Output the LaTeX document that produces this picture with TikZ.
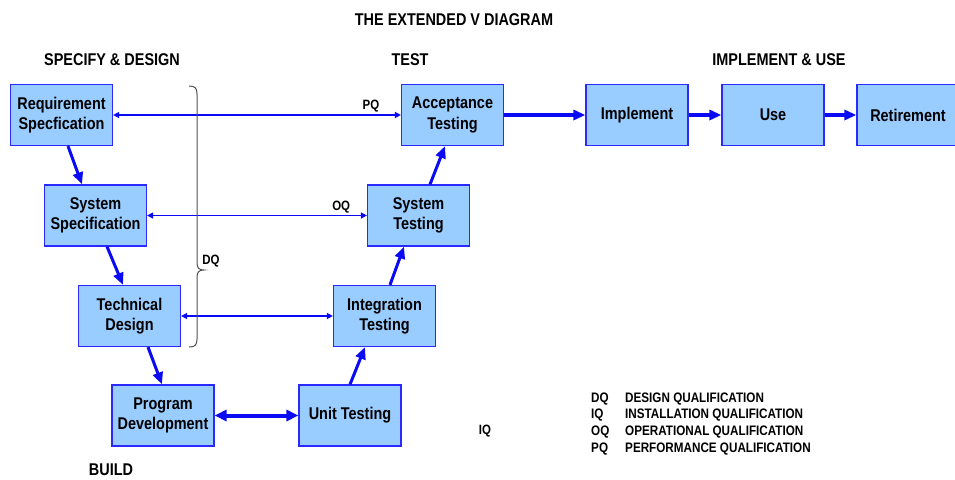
\documentclass[tikz,border=0pt]{standalone}
\usepackage{fontspec}
\setmainfont{Liberation Sans}[FakeStretch=0.85]
\usetikzlibrary{arrows.meta,calc}

\definecolor{boxfill}{HTML}{99CCFF}
\definecolor{boxedge}{HTML}{2A2AFF}
\definecolor{flowblue}{HTML}{0A0AF5}
\definecolor{bracegray}{HTML}{505050}

\tikzset{
  stage/.style={draw=boxedge, fill=boxfill, line width=1.2pt,
    minimum width=102pt, minimum height=61pt, inner sep=0pt, align=center,
    font=\fontsize{17}{20.5}\selectfont\bfseries},
  flow/.style={draw=flowblue, line width=3pt, -{Triangle[length=12pt,width=10pt]}},
  bigflow/.style={draw=flowblue, line width=4pt,
    {Triangle[length=12pt,width=11pt]}-{Triangle[length=12pt,width=11pt]}},
  qlink/.style={draw=flowblue, line width=1.4pt,
    {Triangle[length=6pt,width=6pt]}-{Triangle[length=6pt,width=6pt]}},
  heading/.style={font=\fontsize{17}{19}\selectfont\bfseries, inner sep=0pt},
  qlabel/.style={font=\fontsize{13.5}{15}\selectfont\bfseries, inner sep=2pt},
  legend/.style={font=\fontsize{13.75}{15}\selectfont\bfseries, inner sep=0pt, anchor=base west},
}

\begin{document}
\begin{tikzpicture}[x=1pt, y=-1pt]
  \useasboundingbox (0,0) rectangle (955,479);

  % headings
  \node[heading] (title) at (454,20) {THE EXTENDED V DIAGRAM};
  \node[heading] (hspec) at (112,60) {SPECIFY \& DESIGN};
  \node[heading] (htest) at (410,60) {TEST};
  \node[heading] (himpl) at (779,60) {IMPLEMENT \& USE};
  \node[heading] (hbuild) at (111,470) {BUILD};

  % left leg of the V
  \node[stage] (req)  at (61.5,115)  {Requirement\\Specfication};
  \node[stage] (sys)  at (95.5,215.5) {System\\Specification};
  \node[stage] (tech) at (129.5,316)  {Technical\\Design};
  \node[stage] (prog) at (163,415.5)  {Program\\Development};

  % right leg of the V
  \node[stage] (unit)    at (350,415.5)   {Unit Testing};
  \node[stage] (integ)   at (384.5,316)   {Integration\\Testing};
  \node[stage] (systest) at (418.5,215.5) {System\\Testing};
  \node[stage] (acc)     at (452.5,115)   {Acceptance\\Testing};

  % extension
  \node[stage] (impl) at (637,115) {Implement};
  \node[stage] (use)  at (773,115) {Use};
  \node[stage] (ret)  at (908,115) {Retirement};

  % descending flow
  \draw[flow] ($(req.south)+(6.5,0)$)   -- ($(sys.north)+(-13.5,0)$);
  \draw[flow] ($(sys.south)+(11.5,0)$)  -- ($(tech.north)+(-6.5,0)$);
  \draw[flow] ($(tech.south)+(18.5,0)$) -- ($(prog.north)+(-1,0)$);

  % bottom of the V
  \draw[bigflow] (prog.east) -- (unit.west);

  % ascending flow
  \draw[flow] (unit.north) -- ($(integ.south)+(-19.5,0)$);
  \draw[flow] ($(integ.north)+(5.5,0)$)   -- ($(systest.south)+(-14.5,0)$);
  \draw[flow] ($(systest.north)+(11.5,0)$) -- ($(acc.south)+(-7.5,0)$);

  % implement and use
  \draw[flow, line width=4pt] (acc.east) -- (impl.west);
  \draw[flow, line width=4pt] (impl.east) -- (use.west);
  \draw[flow, line width=4pt] (use.east) -- (ret.west);

  % qualification links
  \draw[qlink] (req.east) -- node[qlabel, pos=0.896, above] {PQ} (acc.west);
  \draw[qlink] (sys.east) -- node[qlabel, pos=0.883, above] {OQ} (systest.west);
  \draw[qlink] (tech.east) -- (integ.west);

  % design qualification brace
  \draw[bracegray, line width=1pt]
    (189,86) .. controls (195,86) and (197,88) .. (197,94) -- (197,263)
    .. controls (197,268) and (199,270) .. (204,270)
    .. controls (199,270) and (197,272) .. (197,277) -- (197,339)
    .. controls (197,345) and (195,347) .. (189,347);
  \node[qlabel, inner sep=0pt] (dq) at (211,261) {DQ};

  \node[qlabel, inner sep=0pt] (iq) at (485,431) {IQ};

  % legend
  \node[legend] (l1a) at (591,402)   {DQ};
  \node[legend] (l1b) at (625,402)   {DESIGN QUALIFICATION};
  \node[legend] (l2a) at (591,418.5) {IQ};
  \node[legend] (l2b) at (625,418.5) {INSTALLATION QUALIFICATION};
  \node[legend] (l3a) at (591,435)   {OQ};
  \node[legend] (l3b) at (625,435)   {OPERATIONAL QUALIFICATION};
  \node[legend] (l4a) at (591,452)   {PQ};
  \node[legend] (l4b) at (625,452)   {PERFORMANCE QUALIFICATION};
\end{tikzpicture}
\end{document}
